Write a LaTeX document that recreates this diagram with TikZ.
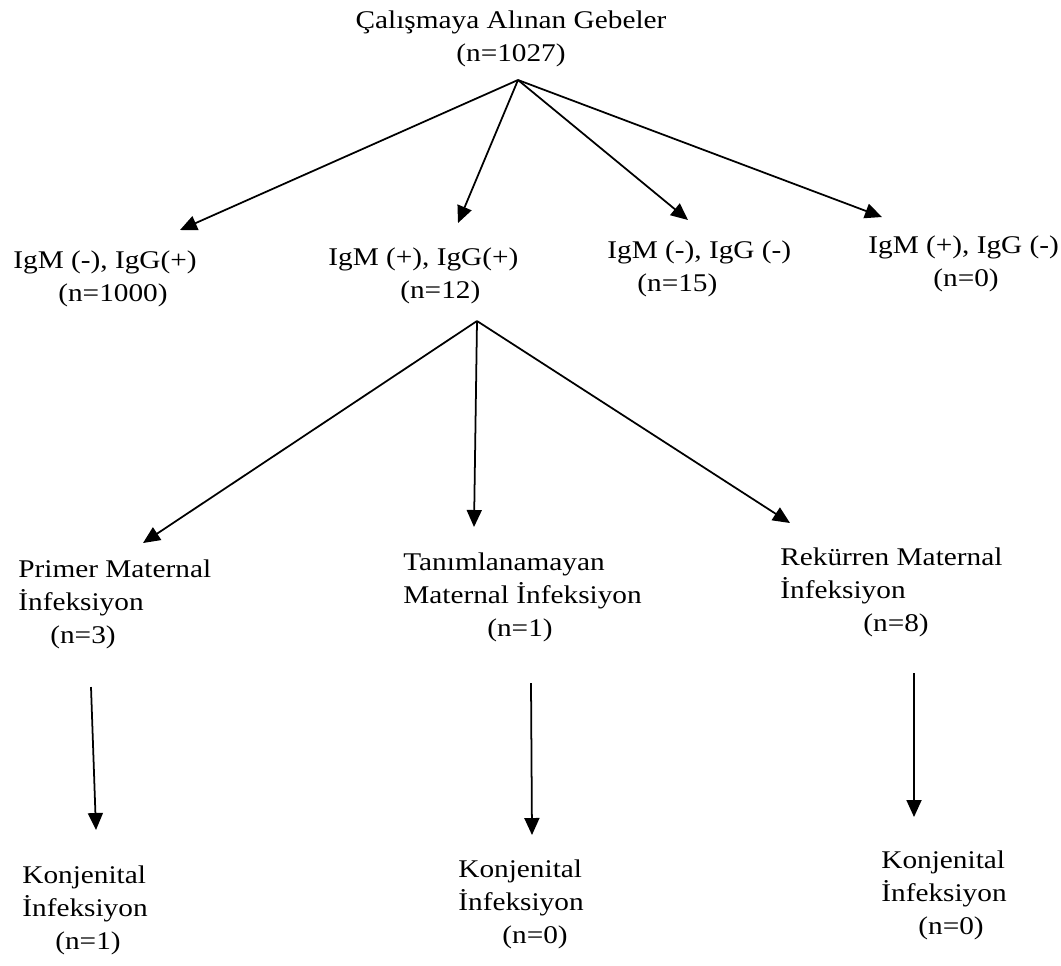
\documentclass[tikz,border=0pt]{standalone}
\usepackage{fontspec}
\setmainfont{Liberation Serif}[FakeStretch=1.15]
\usetikzlibrary{arrows.meta}
\tikzset{branch/.style={-{Triangle[length=3.4mm,width=3mm]},line width=1pt}, lbl/.style={inner sep=0pt,align=left,anchor=west,font=\fontsize{14.5}{18.8}\selectfont}}

\begin{document}
\begin{tikzpicture}[x=0.02cm,y=-0.02cm]
  \useasboundingbox (0,0) rectangle (1061,965);

  % top
  \node[lbl, align=center, anchor=center] (all) at (511,38.5) {Çalışmaya Alınan Gebeler\\(n=1027)};
  \coordinate (split1) at (518,80);

  % serology groups
  \node[lbl] (mnpp) at (13,278.5) {IgM (-), IgG(+)\\\hspace*{0.9cm}(n=1000)};
  \node[lbl] (mppp) at (328,275.5) {IgM (+), IgG(+)\\\hspace*{1.44cm}(n=12)};
  \node[lbl] (mnpn) at (607,268.5) {IgM (-), IgG (-)\\\hspace*{0.6cm}(n=15)};
  \node[lbl] (mppn) at (868,263.5) {IgM (+), IgG (-)\\\hspace*{1.3cm}(n=0)};
  \coordinate (tip1) at (180,230);
  \coordinate (tip2) at (458,223);
  \coordinate (tip3) at (688,220);
  \coordinate (tip4) at (882,217);
  \draw[branch] (split1) -- (tip1);
  \draw[branch] (split1) -- (tip2);
  \draw[branch] (split1) -- (tip3);
  \draw[branch] (split1) -- (tip4);

  % maternal infection
  \coordinate (split2) at (477,321);
  \node[lbl] (primer) at (18,604) {Primer Maternal\\İnfeksiyon\\\hspace*{0.64cm}(n=3)};
  \node[lbl] (tanim) at (403,597) {Tanımlanamayan\\Maternal İnfeksiyon\\\hspace*{1.68cm}(n=1)};
  \node[lbl] (rekur) at (780,592) {Rekürren Maternal\\İnfeksiyon\\\hspace*{1.66cm}(n=8)};
  \coordinate (tip5) at (143,543);
  \coordinate (tip6) at (474,527);
  \coordinate (tip7) at (790,523);
  \draw[branch] (split2) -- (tip5);
  \draw[branch] (split2) -- (tip6);
  \draw[branch] (split2) -- (tip7);

  % congenital infection
  \node[lbl] (konj1) at (22,910) {Konjenital\\İnfeksiyon\\\hspace*{0.66cm}(n=1)};
  \node[lbl] (konj2) at (458,904) {Konjenital\\İnfeksiyon\\\hspace*{0.88cm}(n=0)};
  \node[lbl] (konj3) at (881,895) {Konjenital\\İnfeksiyon\\\hspace*{0.74cm}(n=0)};
  \coordinate (from1) at (91,687);
  \coordinate (from2) at (531,683);
  \coordinate (from3) at (914,673);
  \coordinate (to1) at (96,830);
  \coordinate (to2) at (532,835);
  \coordinate (to3) at (914,817);
  \draw[branch] (from1) -- (to1);
  \draw[branch] (from2) -- (to2);
  \draw[branch] (from3) -- (to3);

\end{tikzpicture}
\end{document}
